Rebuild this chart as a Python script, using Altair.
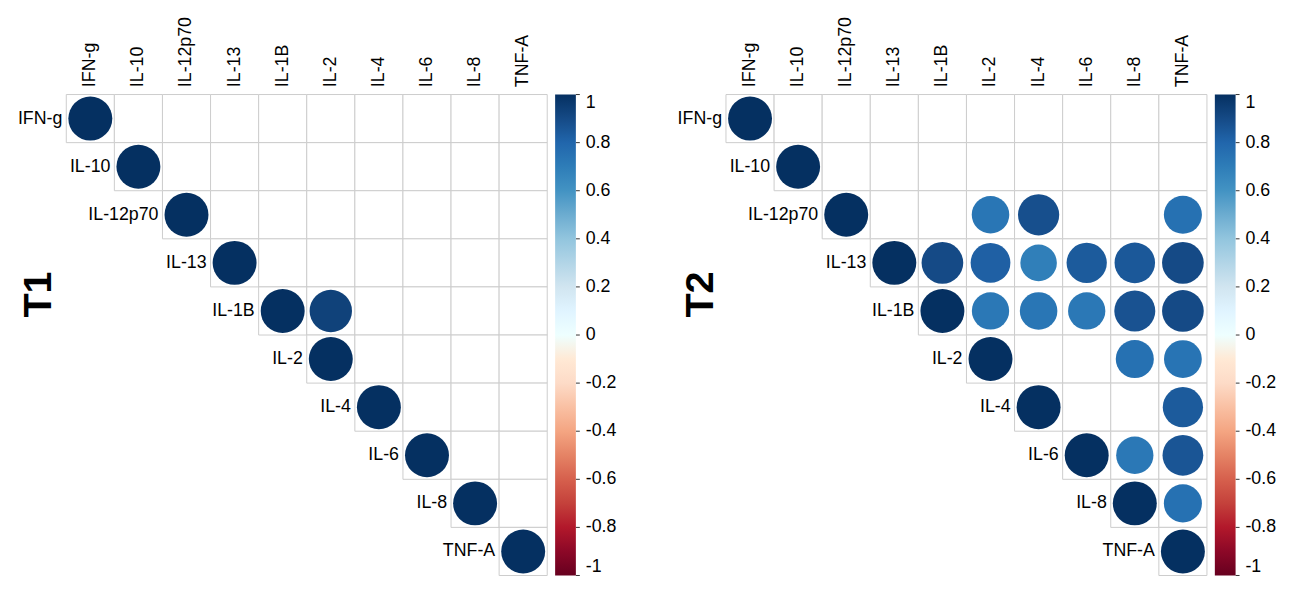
import altair as alt
import pandas as pd

FONT = "Liberation Sans"

labels = ["IFN-g", "IL-10", "IL-12p70", "IL-13", "IL-1B", "IL-2", "IL-4", "IL-6", "IL-8", "TNF-A"]

N = None
# upper-triangle correlation values (None = blank / not shown)
t1_matrix = [
    [1, N, N, N, N, N, N, N, N, N],
    [N, 1, N, N, N, N, N, N, N, N],
    [N, N, 1, N, N, N, N, N, N, N],
    [N, N, N, 1, N, N, N, N, N, N],
    [N, N, N, N, 1, 0.93, N, N, N, N],
    [N, N, N, N, N, 1, N, N, N, N],
    [N, N, N, N, N, N, 1, N, N, N],
    [N, N, N, N, N, N, N, 1, N, N],
    [N, N, N, N, N, N, N, N, 1, N],
    [N, N, N, N, N, N, N, N, N, 1],
]

t2_matrix = [
    [1, N, N, N, N, N, N, N, N, N],
    [N, 1, N, N, N, N, N, N, N, N],
    [N, N, 1, N, N, 0.73, 0.88, N, N, 0.75],
    [N, N, N, 1, 0.9, 0.82, 0.69, 0.84, 0.85, 0.9],
    [N, N, N, N, 1, 0.72, 0.73, 0.72, 0.87, 0.9],
    [N, N, N, N, N, 1, N, N, 0.75, 0.74],
    [N, N, N, N, N, N, 1, N, N, 0.84],
    [N, N, N, N, N, N, N, 1, 0.72, 0.86],
    [N, N, N, N, N, N, N, N, 1, 0.75],
    [N, N, N, N, N, N, N, N, N, 1],
]

rdbu_domain = [-1, -0.8, -0.6, -0.4, -0.2, 0, 0.2, 0.4, 0.6, 0.8, 1]
rdbu_colors = ["#67001F", "#B2182B", "#D6604D", "#F4A582", "#FDDBC7", "#FFFFFF",
               "#D1E5F0", "#92C5DE", "#4393C3", "#2166AC", "#053061"]
legend_values = [1, 0.8, 0.6, 0.4, 0.2, 0, -0.2, -0.4, -0.6, -0.8, -1]

SIDE = 487
BAR_OFFSET = 8
BAR_W = 21


def panel(matrix, title, title_x):
    n = len(labels)
    cells = pd.DataFrame([{"row": labels[i], "col": labels[j]}
                          for i in range(n) for j in range(i, n)])
    vals = pd.DataFrame([{"row": labels[i], "col": labels[j],
                          "r": matrix[i][j], "absr": abs(matrix[i][j])}
                         for i in range(n) for j in range(i, n)
                         if matrix[i][j] is not None])
    diag = pd.DataFrame({"row": labels, "col": labels})
    ticks_df = pd.DataFrame({"v": legend_values})

    xscale = alt.Scale(domain=labels, paddingInner=0, paddingOuter=0)
    yscale = alt.Scale(domain=labels, paddingInner=0, paddingOuter=0)
    xaxis = alt.Axis(orient="top", title=None, labelAngle=270, labelAlign="left",
                     labelBaseline="middle", labelPadding=8, ticks=False, tickSize=0,
                     domain=False, labelFontSize=18, labelColor="black",
                     labelFont=FONT)
    yaxis = alt.Axis(title=title, labels=False, ticks=False, tickSize=0, domain=False,
                     titleAngle=270, titleX=title_x, titleY=202,
                     titleAlign="center", titleBaseline="middle",
                     titleFontSize=40, titleFontWeight="bold",
                     titleFont=FONT, titleColor="black")

    def X(**kw):
        return alt.X("col:N", scale=xscale, sort=labels, axis=xaxis, **kw)

    def Y():
        return alt.Y("row:N", scale=yscale, sort=labels, axis=yaxis)

    grid = alt.Chart(cells).mark_rect(fill="white", stroke="#cccccc", strokeWidth=1).encode(
        x=X(), y=Y())

    circles = alt.Chart(vals).mark_circle(opacity=1, strokeWidth=0).encode(
        x=X(), y=Y(),
        size=alt.Size("absr:Q", scale=alt.Scale(domain=[0, 1], range=[0, 1980], zero=True),
                      legend=None),
        color=alt.Color("r:Q", scale=alt.Scale(domain=rdbu_domain, range=rdbu_colors),
                        legend=alt.Legend(title=None, orient="right", offset=BAR_OFFSET,
                                          padding=0, direction="vertical",
                                          gradientLength=SIDE, gradientThickness=BAR_W,
                                          gradientStrokeWidth=0,
                                          values=legend_values, labelFontSize=18,
                                          labelFont=FONT, labelColor="black",
                                          labelOffset=10, labelBaseline="middle",
                                          labelOverlap=False,
                                          labelExpr="toString(datum.value)")),
    )

    text = alt.Chart(diag).mark_text(align="right", baseline="middle", dx=-4,
                                     fontSize=18, font=FONT, color="black").encode(
        x=X(bandPosition=0), y=Y(), text="row:N",
    )

    inner = alt.layer(grid, circles, text)

    # small tick marks beside the colour bar
    bar_right = SIDE + BAR_OFFSET + BAR_W
    cticks = alt.Chart(ticks_df).mark_rule(color="#333333", strokeWidth=1).encode(
        x=alt.value(bar_right),
        x2=alt.value(bar_right + 4),
        y=alt.Y("v:Q", scale=alt.Scale(domain=[-1, 1], nice=False, zero=False), axis=None),
    )

    return alt.layer(inner, cticks).resolve_scale(y="independent").properties(
        width=SIDE, height=SIDE)


p1 = panel(t1_matrix, "T1", -28)
p2 = panel(t2_matrix, "T2", -26)

chart = alt.hconcat(p1, p2, spacing=61).resolve_scale(
    color="independent", size="independent", x="independent", y="independent"
).resolve_legend(color="independent").properties(
    padding={"left": 10, "top": 4, "right": 5, "bottom": 5}
).configure(font=FONT).configure_view(stroke=None)

chart.save("out.html", embed_options={"renderer": "svg", "actions": False})
